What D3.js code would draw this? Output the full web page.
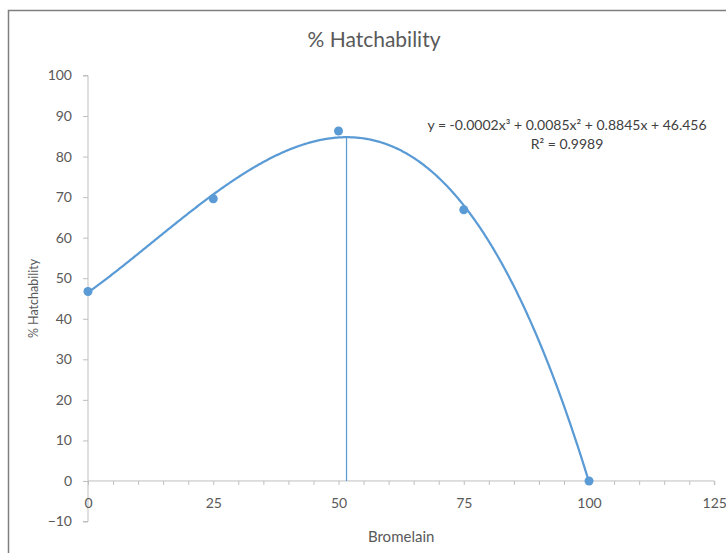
<!DOCTYPE html>
<html><head><meta charset="utf-8">
<script src="https://cdn.jsdelivr.net/npm/d3@7"></script>
<style>body{margin:0;background:#fff}svg{display:block}</style>
</head><body>
<script>
const title = "% Hatchability";
const xTitle = "Bromelain";
const yTitle = "% Hatchability";
const bromelain = [0, 25, 50, 75, 100];
const hatchability = [46.72, 69.6, 86.3, 66.9, 0];
const xTicks = [0, 25, 50, 75, 100, 125];
const yTicks = [-10, 0, 10, 20, 30, 40, 50, 60, 70, 80, 90, 100];
const equationLines = ["y = -0.0002x³ + 0.0085x² + 0.8845x + 46.456", "R² = 0.9989"];

const W = 726, H = 553;
const svg = d3.select("body").append("svg").attr("width", W).attr("height", H);
svg.append("rect").attr("width", W).attr("height", H).attr("fill", "#fff");
svg.append("rect").attr("x", 8.5).attr("y", 10.5).attr("width", 800).attr("height", 700)
  .attr("fill", "none").attr("stroke", "#7f7f7f").attr("stroke-width", 1.5);

const x = d3.scaleLinear().domain([0, 125]).range([88, 714.3]);
const y = d3.scaleLinear().domain([-10, 100]).range([521.5, 75.5]);

// cubic least-squares trendline
function polyfit(xs, ys, deg) {
  const n = deg + 1;
  const A = Array.from({length: n}, () => new Array(n + 1).fill(0));
  for (let k = 0; k < xs.length; k++) {
    for (let i = 0; i < n; i++) {
      for (let j = 0; j < n; j++) A[i][j] += Math.pow(xs[k], i + j);
      A[i][n] += ys[k] * Math.pow(xs[k], i);
    }
  }
  for (let i = 0; i < n; i++) {
    let p = i;
    for (let r = i + 1; r < n; r++) if (Math.abs(A[r][i]) > Math.abs(A[p][i])) p = r;
    [A[i], A[p]] = [A[p], A[i]];
    for (let r = 0; r < n; r++) {
      if (r === i) continue;
      const f = A[r][i] / A[i][i];
      for (let c = i; c <= n; c++) A[r][c] -= f * A[i][c];
    }
  }
  return A.map((row, i) => row[n] / row[i]);
}
const coef = polyfit(bromelain, hatchability, 3);
const f = v => coef.reduce((s, c, i) => s + c * Math.pow(v, i), 0);
const xmin = d3.min(bromelain), xmax = d3.max(bromelain);
const curveX = d3.range(0, 501).map(i => xmin + (xmax - xmin) * i / 500);
// maximum of trendline
const peakX = curveX[d3.maxIndex(curveX, f)];

const grey = "#595959", axisCol = "#bfbfbf", blue = "#5b9bd5";
const font = "Lato, 'Open Sans', sans-serif";

// title
svg.append("text").attr("x", 374).attr("y", 47).attr("text-anchor", "middle")
  .attr("font-family", font).attr("font-size", 21).attr("fill", grey).text(title);

// y axis
const yAxis = svg.append("g").attr("transform", `translate(${x(0)},0)`)
  .call(d3.axisLeft(y).tickValues(yTicks).tickSize(5).tickPadding(11).tickFormat(d3.format("d")));
yAxis.select(".domain").attr("stroke", axisCol).attr("d", `M-5,${y(100)}H0V${y(-10)}H-5`);
yAxis.selectAll(".tick line").attr("stroke", axisCol);
yAxis.selectAll("text").attr("font-family", font).attr("font-size", 14).attr("fill", grey);

// x axis at y=0
const xAxis = svg.append("g").attr("transform", `translate(0,${y(0)})`)
  .call(d3.axisBottom(x).tickValues(d3.range(0, 126, 5)).tickSize(4).tickPadding(13)
    .tickFormat(d => xTicks.includes(d) ? d : ""));
xAxis.select(".domain").attr("stroke", axisCol).attr("d", `M${x(0)},0H${x(125)}V4`);
xAxis.selectAll(".tick line").attr("stroke", axisCol);
xAxis.selectAll("text").attr("font-family", font).attr("font-size", 14).attr("fill", grey);

// axis titles
svg.append("text").attr("x", x(62.5)).attr("y", 542).attr("text-anchor", "middle")
  .attr("font-family", font).attr("font-size", 15).attr("fill", grey).text(xTitle);
svg.append("text").attr("transform", `translate(38,${(y(100)+y(-10))/2}) rotate(-90)`)
  .attr("text-anchor", "middle").attr("font-family", font)
  .attr("font-size", 12.5).attr("fill", grey).text(yTitle);

// drop line at peak
svg.append("line").attr("x1", x(peakX)).attr("x2", x(peakX)).attr("y1", y(0)).attr("y2", y(f(peakX)))
  .attr("stroke", blue).attr("stroke-width", 1.25);

// trendline
svg.append("path").datum(curveX)
  .attr("d", d3.line().x(d => x(d)).y(d => y(f(d))))
  .attr("fill", "none").attr("stroke", blue).attr("stroke-width", 2.25);

// points
svg.selectAll("circle.pt").data(bromelain).enter().append("circle").attr("class", "pt")
  .attr("cx", d => x(d)).attr("cy", (d, i) => y(hatchability[i])).attr("r", 4.5).attr("fill", blue);

// equation
svg.append("text").attr("x", 567).attr("y", 130).attr("text-anchor", "middle")
  .attr("font-family", font).attr("font-size", 14).attr("fill", "#404040")
  .selectAll("tspan").data(equationLines).enter().append("tspan")
  .attr("x", 567).attr("dy", (d, i) => i ? 19 : 0).text(d => d);
</script>
</body></html>
